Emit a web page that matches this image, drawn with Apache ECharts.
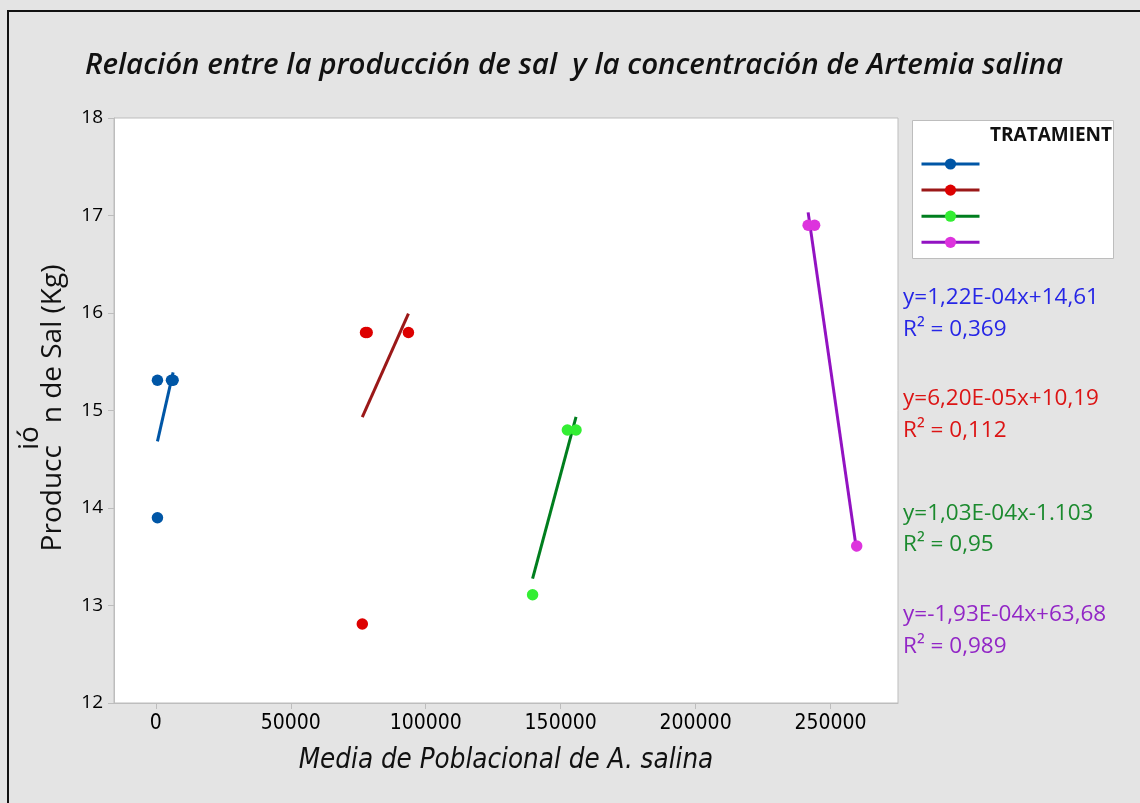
<!DOCTYPE html>
<html>
<head>
<meta charset="utf-8">
<script src="https://cdn.jsdelivr.net/npm/echarts@6/dist/echarts.min.js"></script>
<style>
  html, body { margin: 0; padding: 0; background: #E4E4E4; }
  #chart { width: 1140px; height: 803px; }
</style>
</head>
<body>
<div id="chart"></div>
<script>
// Treatment groups
const groups = ['Tratamiento 1', 'Tratamiento 2', 'Tratamiento 3', 'Tratamiento 4'];

// Mean A. salina population (x) and salt production in kg (y), per treatment
const t1X = [600, 600, 5800, 6400];
const t1Y = [15.31, 13.90, 15.31, 15.31];
const t2X = [76500, 77700, 78300, 93600];
const t2Y = [12.81, 15.80, 15.80, 15.80];
const t3X = [139600, 152500, 155700];
const t3Y = [13.11, 14.80, 14.80];
const t4X = [241700, 244100, 259700];
const t4Y = [16.90, 16.90, 13.61];

// Fitted linear trend per treatment: y = slope * x + intercept
const slopes = [1.22e-4, 6.20e-5, 1.03e-4, -1.93e-4];
const intercepts = [14.61, 10.19, -1.103, 63.68];
const eqLabels = ['y=1,22E-04x+14,61', 'y=6,20E-05x+10,19', 'y=1,03E-04x-1.103', 'y=-1,93E-04x+63,68'];
const r2Labels = ['R\u00B2 = 0,369', 'R\u00B2 = 0,112', 'R\u00B2 = 0,95', 'R\u00B2 = 0,989'];

// Axis ticks
const xTicks = [0, 50000, 100000, 150000, 200000, 250000];
const yTicks = [12, 13, 14, 15, 16, 17, 18];

const markerColors = ['#0056A6', '#DD0000', '#33EE33', '#DD33DD'];
const lineColors = ['#0056A6', '#9B1818', '#007E1E', '#9212C2'];
const eqColors = ['#2626E6', '#DC1414', '#1B8A2E', '#9226C6'];

const xs = [t1X, t2X, t3X, t4X];
const ys = [t1Y, t2Y, t3Y, t4Y];

const FONT = '"Open Sans", "Noto Sans", sans-serif';
const NARROW = '"Liberation Sans Narrow", "DejaVu Sans Condensed", sans-serif';

const chart = echarts.init(document.getElementById('chart'), null, { renderer: 'canvas' });

const series = [];
// trend lines first so the legend picks up their line + marker icon
groups.forEach((g, i) => {
  const lo = Math.min(...xs[i]);
  const hi = Math.max(...xs[i]);
  series.push({
    name: g,
    type: 'line',
    data: [[lo, slopes[i] * lo + intercepts[i]], [hi, slopes[i] * hi + intercepts[i]]],
    symbol: 'circle',
    showSymbol: false,
    itemStyle: { color: markerColors[i] },
    lineStyle: { color: lineColors[i], width: 3 },
    silent: true,
    z: 2
  });
});
groups.forEach((g, i) => {
  series.push({
    name: g,
    type: 'scatter',
    data: xs[i].map((x, k) => [x, ys[i][k]]),
    symbol: 'circle',
    symbolSize: 11.5,
    itemStyle: { color: markerColors[i], opacity: 1 },
    z: 3
  });
});

// regression equation texts at the right side
const eqY = [[298, 330], [399, 431], [514, 545], [615, 647]];
const eqGraphics = [];
eqLabels.forEach((t, i) => {
  eqGraphics.push({
    type: 'text', x: 903, y: eqY[i][0],
    style: { text: t, fill: eqColors[i], font: '22.5px ' + FONT, verticalAlign: 'middle' }
  });
  eqGraphics.push({
    type: 'text', x: 903, y: eqY[i][1],
    style: { text: r2Labels[i], fill: eqColors[i], font: '22.5px ' + FONT, verticalAlign: 'middle' }
  });
});

const option = {
  backgroundColor: '#E4E4E4',
  animation: false,
  title: {
    text: 'Relaci\u00F3n entre la producci\u00F3n de sal  y la concentraci\u00F3n de Artemia salina',
    left: 80, top: 46,
    textStyle: { fontFamily: FONT, fontStyle: 'italic', fontWeight: 600, fontSize: 29.5, color: '#111' }
  },
  grid: {
    left: 114, top: 118, right: 242, bottom: 100,
    show: true, backgroundColor: '#FFFFFF', borderColor: '#BDBDBD', borderWidth: 1
  },
  legend: {
    orient: 'vertical',
    left: 915, top: 152,
    itemWidth: 58, itemHeight: 14, itemGap: 13.5,
    selectedMode: false,
    formatter: () => '',
    lineStyle: { width: 3 },
    data: groups,
    z: 10
  },
  xAxis: {
    type: 'value',
    min: -15500, max: 275000,
    name: 'Media de Poblacional de A. salina',
    nameLocation: 'middle', nameGap: 44,
    nameTextStyle: { fontFamily: NARROW, fontStyle: 'italic', fontSize: 27.5, color: '#111' },
    splitLine: { show: false },
    axisLine: { show: true, onZero: false, lineStyle: { color: '#BDBDBD' } },
    axisTick: { show: true, customValues: xTicks, length: 6, lineStyle: { color: '#BDBDBD' } },
    axisLabel: { customValues: xTicks, formatter: v => String(v), margin: 10, color: '#000', fontSize: 21, fontFamily: NARROW }
  },
  yAxis: {
    type: 'value',
    min: 12, max: 18, interval: 1,
    splitLine: { show: false },
    axisLine: { show: true, onZero: false, lineStyle: { color: '#BDBDBD' } },
    axisTick: { show: true, length: 6, lineStyle: { color: '#BDBDBD' } },
    axisLabel: { margin: 11, color: '#000', fontSize: 19, fontWeight: 500, fontFamily: FONT }
  },
  graphic: [
    // outer frame (top and left edges)
    { type: 'polyline', shape: { points: [[8, 803], [8, 11], [1140, 11]] }, style: { stroke: '#111', lineWidth: 2, fill: null }, z: 0 },
    // legend box
    { type: 'rect', shape: { x: 912.5, y: 120.5, width: 201, height: 138 }, style: { fill: '#FFFFFF', stroke: '#BDBDBD', lineWidth: 1 }, z: 0 },
    { type: 'text', x: 990, y: 136, style: { text: 'TRATAMIENT', fill: '#111', font: 'bold 19px ' + FONT, verticalAlign: 'middle' }, z: 1 },
    // y axis title, set in two pieces
    { type: 'text', x: 53, y: 408, rotation: Math.PI / 2,
      style: { text: 'Producc   n de Sal (Kg)', fill: '#111', font: '28px ' + FONT, align: 'center', verticalAlign: 'middle' } },
    { type: 'text', x: 30, y: 438, rotation: Math.PI / 2,
      style: { text: 'i\u00F3', fill: '#111', font: '28px ' + FONT, align: 'center', verticalAlign: 'middle' } }
  ].concat(eqGraphics),
  series: series
};

chart.setOption(option);
</script>
</body>
</html>
